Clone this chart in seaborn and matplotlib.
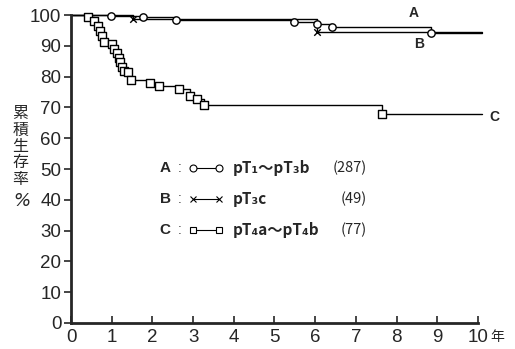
import numpy as np
import pandas as pd
import matplotlib
matplotlib.use("Agg")
import matplotlib.pyplot as plt
import seaborn as sns

# 累積生存率 (Kaplan-Meier), 読み取り値
a_t = [0.98, 1.76, 2.57, 5.49, 6.05, 6.42, 8.85]
a_s = [99.6, 99.2, 98.4, 97.8, 97.1, 96.0, 94.2]

b_t = [1.52, 6.05]
b_s = [98.6, 94.4]

c_t = [0.42, 0.56, 0.66, 0.71, 0.76, 0.81, 1.00, 1.05, 1.13, 1.18, 1.20, 1.25,
       1.30, 1.40, 1.47, 1.94, 2.16, 2.65, 2.92, 3.09, 3.26, 7.65]
c_s = [99.4, 98.1, 96.4, 94.8, 93.2, 91.2, 90.6, 89.0, 87.7, 86.0, 84.7, 83.1,
       81.8, 81.5, 78.9, 77.9, 76.9, 75.9, 73.7, 72.7, 70.8, 67.8]

follow_end = 10.1
groups = ["A", "B", "C"]
legend_names = ["pT₁～pT₃b", "pT₃c", "pT₄a～pT₄b"]
legend_n = ["(287)", "(49)", "(77)"]
markers = ["o", "x", "s"]

x_ticks = list(range(0, 11))
y_ticks = list(range(0, 101, 10))

sns.set_style("ticks")
plt.rcParams["font.family"] = ["Liberation Sans Narrow", "Liberation Sans", "DejaVu Sans"]
jp = ["Noto Sans CJK JP", "DejaVu Sans"]

fig = plt.figure(figsize=(5.15, 3.49), dpi=100)
ax = fig.add_axes([0.138, 0.0745, 0.79, 0.8825])


def step_frame(ts, ss):
    t = [0.0] + ts + [follow_end]
    s = [100.0] + ss + [ss[-1]]
    return pd.DataFrame({"t": t, "s": s})


for g, ts, ss, m in zip(groups, [a_t, b_t, c_t], [a_s, b_s, c_s], markers):
    df = step_frame(ts, ss)
    sns.lineplot(data=df, x="t", y="s", estimator=None, sort=False,
                 drawstyle="steps-post", color="black", lw=1.0, ax=ax,
                 clip_on=False)
    mk = pd.DataFrame({"t": ts, "s": ss})
    if m == "x":
        sns.scatterplot(data=mk, x="t", y="s", marker="x", s=22, color="black",
                        linewidth=1.0, ax=ax, clip_on=False, zorder=3)
    else:
        sns.scatterplot(data=mk, x="t", y="s", marker=m, s=28, facecolor="white",
                        edgecolor="black", linewidth=1.0, ax=ax, clip_on=False,
                        zorder=3)

ax.set_xlim(0, 10)
ax.set_ylim(0, 100)
ax.set_xticks(x_ticks)
ax.set_yticks(y_ticks)
ax.set_xlabel("")
ax.set_ylabel("")
ax.tick_params(axis="x", direction="in", length=5, width=1.2, labelsize=13.5, pad=4)
ax.tick_params(axis="y", direction="out", length=5, width=1.2, labelsize=13.5, pad=2)
for side in ["top", "right"]:
    ax.spines[side].set_visible(False)
for side in ["left", "bottom"]:
    ax.spines[side].set_linewidth(2.0)

# 曲線ラベル
ax.text(8.43, 100.5, "A", fontsize=10, fontweight="bold", family="Liberation Sans",
        ha="center", va="center")
ax.text(8.55, 90.5, "B", fontsize=10, fontweight="bold", family="Liberation Sans",
        ha="center", va="center")
ax.text(10.4, 66.8, "C", fontsize=10, fontweight="bold", family="Liberation Sans",
        ha="center", va="center", clip_on=False)

# 凡例
for i, (g, name, n, m) in enumerate(zip(groups, legend_names, legend_n, markers)):
    y = 0.503 - i * 0.1
    ax.text(0.231, y, g, transform=ax.transAxes, fontsize=11, fontweight="bold",
            family="Liberation Sans", ha="center", va="center")
    ax.text(0.268, y, ":", transform=ax.transAxes, fontsize=10,
            family="Liberation Sans", ha="center", va="center", color="#444444")
    ax.plot([0.30, 0.364], [y, y], transform=ax.transAxes, color="black", lw=0.8)
    if m == "x":
        ax.plot([0.30, 0.364], [y, y], transform=ax.transAxes, ls="none",
                marker="x", ms=4, mew=0.8, color="black")
    else:
        ax.plot([0.30, 0.364], [y, y], transform=ax.transAxes, ls="none",
                marker=m, ms=5, mfc="white", mec="black", mew=0.8)
    ax.text(0.398, y, name, transform=ax.transAxes, fontsize=11, fontweight="bold",
            family=jp, ha="left", va="center")
    ax.text(0.728, y, n, transform=ax.transAxes, fontsize=10.5, family=jp,
            ha="right", va="center")

# 縦軸ラベル
fig.text(0.04, 0.58, "\n".join("累積生存率"), fontsize=11.5, family=jp,
         ha="center", va="center", linespacing=0.95)
fig.text(0.042, 0.425, "%", fontsize=13, family="DejaVu Sans", ha="center",
         va="center", style="italic")
fig.text(0.965, 0.035, "年", fontsize=10, family=jp, ha="center", va="center")

fig.savefig("out.png", dpi=100)
